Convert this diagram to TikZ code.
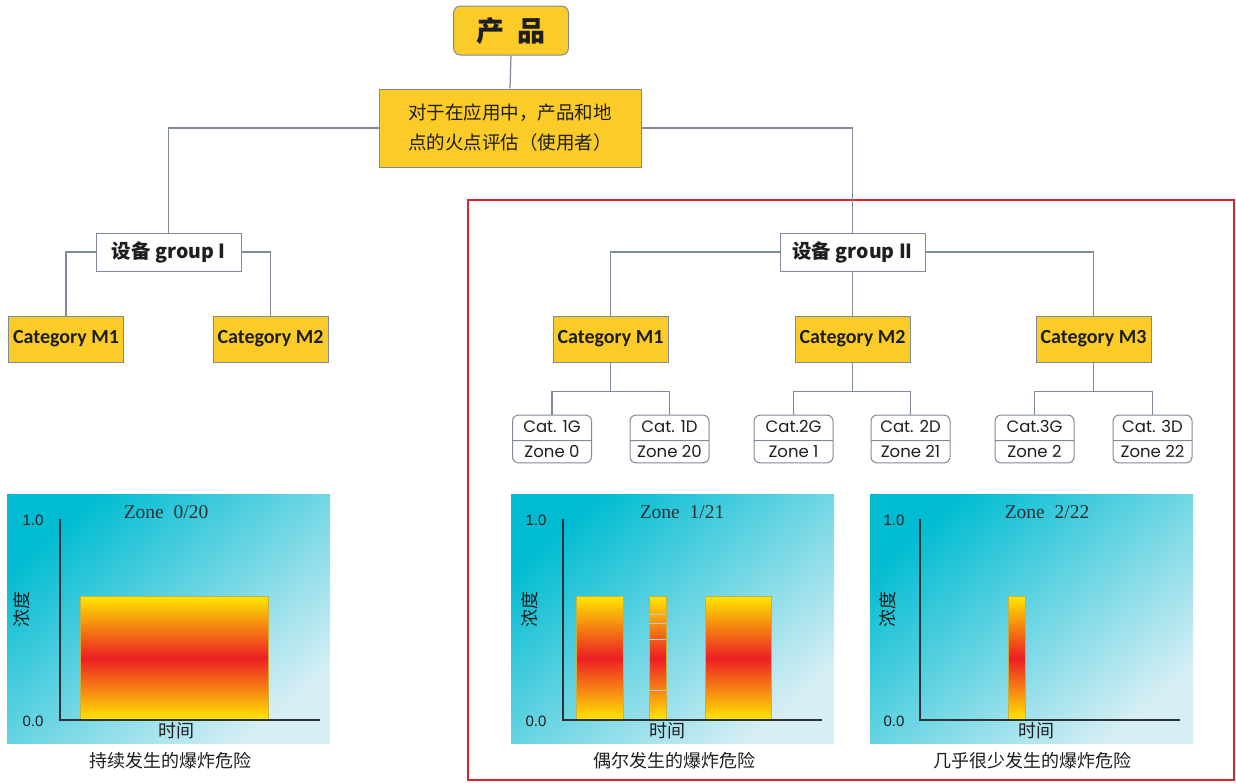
\documentclass[tikz,border=0pt]{standalone}
\usepackage{fontspec}
\setmainfont{Noto Sans CJK SC}
\newfontfamily\catbold{Carlito}
\newfontfamily\catlight{Poppins}
\newfontfamily\zonefont{Liberation Serif}
\newfontfamily\numfont{Liberation Sans}
\usetikzlibrary{shapes.multipart}
\definecolor{ybox}{RGB}{251,203,39}
\definecolor{bgray}{RGB}{127,138,154}
\definecolor{cyanA}{RGB}{0,188,210}
\definecolor{lightB}{RGB}{214,238,244}
\definecolor{barY}{RGB}{255,232,0}
\definecolor{barR}{RGB}{236,30,36}
\definecolor{barEdge}{RGB}{200,176,60}
\definecolor{axisc}{RGB}{45,50,55}
\definecolor{redframe}{RGB}{224,32,42}
\definecolor{txt}{RGB}{30,30,30}
\tikzset{
  conn/.style={draw=bgray, line width=1.2pt},
  ybx/.style={draw=bgray, line width=1pt, fill=ybox, text=txt, inner sep=0pt},
  catm/.style={ybx, minimum width=115pt, minimum height=46pt, font=\catbold\bfseries\fontsize{20}{22}\selectfont},
  grp/.style={draw=bgray, line width=1pt, fill=white, text=txt, minimum width=145pt, minimum height=38pt, inner sep=0pt, font=\bfseries\fontsize{19.5}{21}\selectfont},
  catbox/.style={rectangle split, rectangle split parts=2, draw=bgray, line width=1pt, rounded corners=6pt, fill=white, text=txt,
     minimum width=79pt, inner xsep=2pt, inner ysep=4.5pt, text height=12pt, text depth=3.5pt, font=\catlight\fontsize{16.5}{18}\selectfont, align=center},
  axisl/.style={draw=axisc, line width=1.4pt},
  bar/.style={top color=barY, bottom color=barY, middle color=barR},
  baredge/.style={draw=barEdge, line width=0.8pt},
  ztext/.style={font=\zonefont\fontsize{19.5}{21}\selectfont, text=axisc},
  ntext/.style={font=\numfont\fontsize{15}{17}\selectfont, text=txt},
  ctext/.style={font=\fontsize{18}{20}\selectfont, text=txt},
}
\begin{document}
\begin{tikzpicture}[x=1pt,y=-1pt]
\useasboundingbox (0,0) rectangle (1236,782);
% red frame
\draw[redframe, line width=1.5pt] (468,200) rectangle (1234,780);
% top boxes
\node[ybx, rounded corners=7pt, minimum width=115pt, minimum height=49pt, font=\bfseries\fontsize{28}{30}\selectfont] (prod) at (511,30.5) {产\hspace{0.45em}品};
\node[ybx, minimum width=262pt, minimum height=78pt, align=left, font=\fontsize{18.5}{30}\selectfont] (assess) at (510,128) {对于在应用中，产品和地\\点的火点评估（使用者）};
% groups
\node[grp] (g1) at (168.5,252) {设备 group I};
\node[grp] (g2) at (852.5,252) {设备 group II};
% categories
\node[catm] (m1a) at (66,339) {Category M1};
\node[catm] (m2a) at (270.5,339) {Category M2};
\node[catm] (m1b) at (610.5,339) {Category M1};
\node[catm] (m2b) at (852.5,339) {Category M2};
\node[catm] (m3b) at (1093.5,339) {Category M3};
% cat boxes
\node[catbox] (c1g) at (552,439) {Cat. 1G\nodepart{two}Zone 0};
\node[catbox] (c1d) at (669.5,439) {Cat. 1D\nodepart{two}Zone 20};
\node[catbox] (c2g) at (793.5,439) {Cat.2G\nodepart{two}Zone 1};
\node[catbox] (c2d) at (910.5,439) {Cat. 2D\nodepart{two}Zone 21};
\node[catbox] (c3g) at (1034.5,439) {Cat.3G\nodepart{two}Zone 2};
\node[catbox] (c3d) at (1152.5,439) {Cat. 3D\nodepart{two}Zone 22};
% connectors
\draw[conn] (prod.south) -- (assess.north);
\draw[conn] (assess.west) -| (g1.north);
\draw[conn] (assess.east) -| (g2.north);
\draw[conn] (g1.west) -| (m1a.north);
\draw[conn] (g1.east) -| (m2a.north);
\draw[conn] (g2.west) -| (m1b.north);
\draw[conn] (g2.south) -- (m2b.north);
\draw[conn] (g2.east) -| (m3b.north);
\draw[conn] (m1b.south) -- ++(0,29) -| (c1g.north);
\draw[conn] (m1b.south) -- ++(0,29) -| (c1d.north);
\draw[conn] (m2b.south) -- ++(0,29) -| (c2g.north);
\draw[conn] (m2b.south) -- ++(0,29) -| (c2d.north);
\draw[conn] (m3b.south) -- ++(0,29) -| (c3g.north);
\draw[conn] (m3b.south) -- ++(0,29) -| (c3d.north);
% ---------- chart 1
\shade[top color=cyanA, bottom color=lightB, shading angle=40] (7,494) rectangle (330,743);
\shade[bar] (80,596) rectangle (268,720);
\draw[baredge] (80,720) -- (80,596) -- (268,596) -- (268,720);
\draw[axisl] (60,519) -- (60,720) -- (320,720);
\node[ntext] at (33,520) {1.0};
\node[ntext] at (33,721) {0.0};
\node[ztext] at (166,512) {Zone\ \ 0/20};
\node[ctext, rotate=90] at (22,609) {浓度};
\node[ctext] at (176,731) {时间};
\node[ctext] at (170,761) {持续发生的爆炸危险};
% ---------- chart 2
\shade[top color=cyanA, bottom color=lightB, shading angle=40] (511,494) rectangle (834,743);
\shade[bar] (576,596) rectangle (623,720);
\draw[baredge] (576,720) -- (576,596) -- (623,596) -- (623,720);
\shade[bar] (649,596) rectangle (666,720);
\draw[baredge] (649,720) -- (649,596) -- (666,596) -- (666,720);
\foreach \yy in {614,623,639,690} \draw[white!55!gray, line width=0.5pt] (649,\yy) -- (666,\yy);
\shade[bar] (705,596) rectangle (771,720);
\draw[baredge] (705,720) -- (705,596) -- (771,596) -- (771,720);
\draw[axisl] (563,519) -- (563,720) -- (822,720);
\node[ntext] at (536,520) {1.0};
\node[ntext] at (536,721) {0.0};
\node[ztext] at (682,512) {Zone\ \ 1/21};
\node[ctext, rotate=90] at (530,609) {浓度};
\node[ctext] at (667,731) {时间};
\node[ctext] at (674,761) {偶尔发生的爆炸危险};
% ---------- chart 3
\shade[top color=cyanA, bottom color=lightB, shading angle=40] (870,494) rectangle (1193,743);
\shade[bar] (1008,596) rectangle (1025,720);
\draw[baredge] (1008,720) -- (1008,596) -- (1025,596) -- (1025,720);
\draw[axisl] (920,519) -- (920,720) -- (1180,720);
\node[ntext] at (894,520) {1.0};
\node[ntext] at (894,721) {0.0};
\node[ztext] at (1047,512) {Zone\ \ 2/22};
\node[ctext, rotate=90] at (888,609) {浓度};
\node[ctext] at (1036,731) {时间};
\node[ctext] at (1032,761) {几乎很少发生的爆炸危险};
\end{tikzpicture}
\end{document}
